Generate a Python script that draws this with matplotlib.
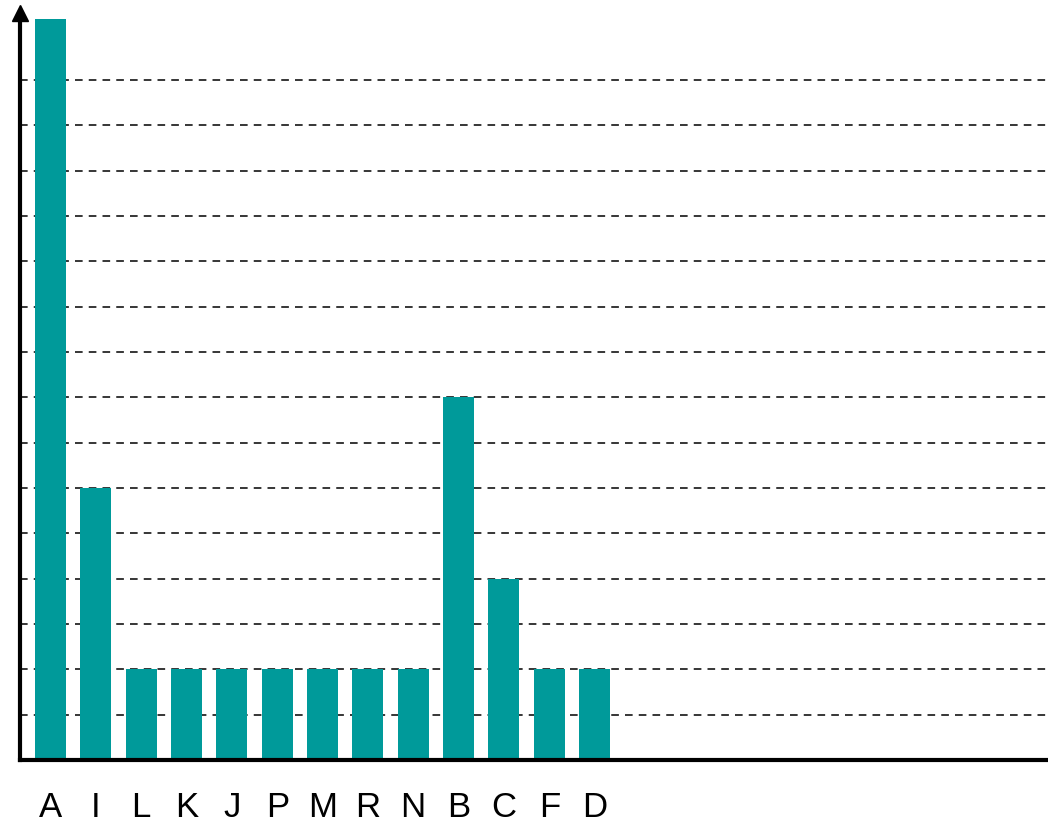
import matplotlib
matplotlib.use("Agg")
import matplotlib.pyplot as plt

categories = ["A", "I", "L", "K", "J", "P", "M", "R", "N", "B", "C", "F", "D"]
values = [16.35, 6, 2, 2, 2, 2, 2, 2, 2, 8, 4, 2, 2]
grid_levels = list(range(1, 16))

plt.rcParams["font.family"] = ["Liberation Sans", "DejaVu Sans"]

fig = plt.figure(figsize=(10.48, 8.25), dpi=100)
# axes from baseline (y=760 px) up to y=13 px
ax = fig.add_axes([20 / 1048, 65 / 825, 1 - 20 / 1048, 747 / 825])

x = list(range(len(categories)))
ax.bar(x, values, width=0.685, color="#009a9a", zorder=3)

# dashed gridlines behind the bars
for g in grid_levels:
    ax.axhline(g, color="black", linestyle=(0, (5, 4)), linewidth=1.1, zorder=1)

ax.set_xlim(-0.673, 22.0)
ax.set_ylim(0, 747 / 45.33)

for side in ["top", "right"]:
    ax.spines[side].set_visible(False)
ax.spines["left"].set_linewidth(3)
ax.spines["bottom"].set_linewidth(3)
ax.spines["left"].set_zorder(4)
ax.spines["bottom"].set_zorder(4)

# arrow head on the y axis
ax.plot([0], [1.0], marker="^", markersize=12, color="black",
        transform=ax.transAxes, clip_on=False, zorder=5)

ax.set_yticks([])
ax.set_xticks(x)
ax.set_xticklabels(categories, fontsize=25)
ax.tick_params(axis="x", length=0, pad=22)

fig.savefig("out.png", dpi=100)
